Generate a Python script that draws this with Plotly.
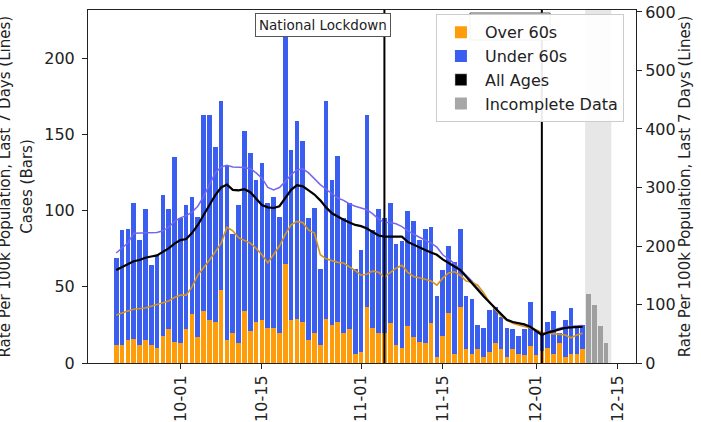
import pandas as pd
import plotly.graph_objects as go

# ---------------- data ----------------
dates = pd.date_range('2020-09-20', periods=81, freq='D')

cases_total = [69, 87, 88, 105, 81, 101, 64, 71, 110, 101,
               135, 95, 104, 109, 96, 163, 163, 142, 172, 130,
               85, 104, 152, 138, 120, 131, 105, 109, 96, 221,
               140, 159, 146, 95, 102, 62, 172, 120, 136, 95,
               105, 62, 74, 163, 87, 101, 95, 105, 78, 80,
               100, 93, 81, 88, 89, 44, 61, 77, 66, 88,
               44, 42, 25, 23, 35, 37, 30, 23, 22, 18,
               22, 40, 21, 20, 27, 34, 20, 28, 36, 24, 25]

cases_over60 = [12, 12, 15, 16, 12, 15, 12, 10, 18, 22,
                14, 13, 22, 32, 17, 34, 28, 27, 48, 15,
                20, 13, 34, 21, 27, 28, 23, 23, 20, 65,
                28, 29, 27, 15, 20, 12, 29, 25, 27, 20,
                22, 6, 7, 37, 23, 20, 20, 26, 12, 10,
                24, 17, 14, 13, 26, 4, 18, 33, 6, 37,
                9, 6, 9, 4, 7, 13, 9, 4, 9, 6,
                5, 11, 5, 8, 10, 6, 13, 4, 6, 6, 9]

rate_all = [159, 164, 170, 174, 176, 180, 182, 184, 190, 196,
            204, 210, 212, 222, 236, 252, 270, 287, 300, 305,
            296, 295, 297, 292, 280, 270, 266, 265, 268, 282,
            296, 304, 302, 295, 288, 278, 266, 256, 250, 245,
            240, 236, 234, 230, 224, 218, 216, 216, 217, 216,
            207, 202, 198, 193, 189, 185, 177, 171, 165, 159,
            148, 136, 125, 114, 104, 94, 84, 74, 70, 68,
            66, 62, 55, 48, 52, 55, 58, 60, 61, 62, 62]

rate_over60 = [82, 86, 89, 92, 93, 94, 97, 100, 103, 106,
               112, 116, 116, 130, 150, 162, 176, 190, 205, 232,
               226, 214, 210, 205, 196, 185, 171, 185, 200, 220,
               236, 242, 240, 227, 222, 185, 178, 175, 172, 171,
               165, 158, 150, 152, 157, 155, 147, 155, 162, 167,
               155, 148, 146, 143, 140, 133, 145, 154, 156, 150,
               140, 138, 133, 120, 104, 91, 80, 73, 68, 65,
               63, 60, 57, 52, 51, 50, 49, 48, 43, 48, 51]

rate_under60 = [188, 196, 205, 222, 222, 222, 222, 223, 226, 232,
                242, 248, 252, 258, 268, 285, 305, 325, 335, 338,
                335, 335, 334, 332, 325, 316, 300, 296, 300, 310,
                322, 330, 332, 325, 315, 305, 297, 290, 282, 278,
                272, 268, 265, 262, 255, 246, 240, 240, 238, 233,
                226, 220, 215, 210, 205, 198, 185, 178, 170, 160,
                150, 140, 128, 116, 104, 92, 82, 74, 70, 68,
                66, 62, 56, 50, 54, 57, 60, 62, 63, 64, 64]

incomplete_dates = pd.date_range('2020-12-10', periods=4, freq='D')
incomplete_cases = [45, 38, 24, 13]

lockdown_start = '2020-11-05'
lockdown_end = '2020-12-02'
incomplete_span = ['2020-12-09 10:00', '2020-12-13 22:00']
tick_dates = ['2020-10-01', '2020-10-15', '2020-11-01', '2020-11-15',
              '2020-12-01', '2020-12-15']
tick_text = ['10-01', '10-15', '11-01', '11-15', '12-01', '12-15']

cases_under60 = [t - o for t, o in zip(cases_total, cases_over60)]

# ---------------- styling ----------------
ORANGE = '#ff9c0a'
BLUE = '#3a5ef0'
LINE_UNDER = '#7466ee'
LINE_OVER = '#d4961a'
GREY_BAR = 'rgba(120,120,120,0.65)'
DAY_MS = 86400000
BW = 0.8 * DAY_MS
FONT = 'DejaVu Sans'
FS = 16
FS_TITLE = 15

fig = go.Figure()

fig.add_trace(go.Bar(x=dates, y=cases_over60, width=BW, marker_color=ORANGE,
                     marker_line_width=0, name='Over 60s', legendgroup='a',
                     legendrank=1))
fig.add_trace(go.Bar(x=dates, y=cases_under60, width=BW, marker_color=BLUE,
                     marker_line_width=0, name='Under 60s', legendgroup='b',
                     legendrank=2))
fig.add_trace(go.Bar(x=[None], y=[None], marker_color='black', name='All Ages',
                     legendgroup='c', legendrank=3))
fig.add_trace(go.Bar(x=incomplete_dates, y=incomplete_cases, width=BW,
                     marker_color=GREY_BAR, marker_line_width=0,
                     name='Incomplete Data', legendgroup='d', legendrank=4))

fig.add_trace(go.Scatter(x=dates, y=rate_under60, yaxis='y2', mode='lines',
                         line=dict(color=LINE_UNDER, width=1.5), showlegend=False))
fig.add_trace(go.Scatter(x=dates, y=rate_over60, yaxis='y2', mode='lines',
                         line=dict(color=LINE_OVER, width=1.6), showlegend=False))
fig.add_trace(go.Scatter(x=dates, y=rate_all, yaxis='y2', mode='lines',
                         line=dict(color='black', width=2.2), showlegend=False))

shapes = [
    dict(type='rect', xref='x', yref='paper', x0=incomplete_span[0],
         x1=incomplete_span[1], y0=0, y1=1, fillcolor='rgba(175,175,175,0.3)',
         line_width=0, layer='below'),
    dict(type='line', xref='x', yref='paper', x0=lockdown_start, x1=lockdown_start,
         y0=0, y1=1, line=dict(color='black', width=2), layer='above'),
    dict(type='line', xref='x', yref='paper', x0=lockdown_end, x1=lockdown_end,
         y0=0, y1=1, line=dict(color='black', width=2), layer='above'),
    dict(type='rect', xref='x', yref='paper', x0='2020-11-19 16:00',
         x1='2020-12-03 10:00', y0=0.915, y1=0.9915, fillcolor='white',
         line=dict(color='#555555', width=1), layer='above'),
]

annotations = [
    dict(x=lockdown_start, y=0.9915, xref='x', yref='paper', xanchor='right',
         yanchor='top', xshift=7, text='National Lockdown', showarrow=False,
         font=dict(family=FONT, size=13.5, color='#222'), bgcolor='white',
         bordercolor='#555555', borderwidth=1, borderpad=3),
    dict(x=-0.1515, y=0.5, xref='paper', yref='paper', xanchor='center',
         yanchor='middle', textangle=-90, showarrow=False,
         text='Rate Per 100k Population, Last 7 Days (Lines)',
         font=dict(family=FONT, size=FS_TITLE, color='#222')),
]

fig.update_layout(
    width=701, height=422,
    margin=dict(l=88, r=65, t=10, b=59, autoexpand=False),
    paper_bgcolor='white', plot_bgcolor='white',
    barmode='relative', bargap=0,
    font=dict(family=FONT, size=FS, color='#222'),
    showlegend=True,
    legend=dict(x=0.978, xanchor='right', y=0.988, yanchor='top',
                bgcolor='rgba(255,255,255,0.92)', bordercolor='#cccccc',
                borderwidth=1, font=dict(family=FONT, size=FS, color='#222'),
                traceorder='grouped', tracegroupgap=0, itemwidth=38),
    xaxis=dict(type='date', range=['2020-09-15 04:00', '2020-12-18 03:30'],
               tickmode='array', tickvals=tick_dates, ticktext=tick_text,
               tickangle=-90, ticks='outside', ticklen=5, tickcolor='#222',
               showgrid=False, zeroline=False, showline=True, linecolor='#222',
               linewidth=1, mirror=True, tickfont=dict(size=FS),
               automargin=False),
    yaxis=dict(range=[0, 231.7], tickmode='array', tickvals=[0, 50, 100, 150, 200],
               ticks='outside', ticklen=5, tickcolor='#222', showgrid=False,
               zeroline=False, showline=True, linecolor='#222', linewidth=1,
               ticklabelstandoff=4,
               title=dict(text='Cases (Bars)', standoff=8,
                          font=dict(size=FS_TITLE)), tickfont=dict(size=FS),
               automargin=False),
    yaxis2=dict(range=[0, 603.4], overlaying='y', side='right', anchor='x',
                tickmode='array', tickvals=[0, 100, 200, 300, 400, 500, 600],
                ticks='outside', ticklen=5, tickcolor='#222', showgrid=False,
                zeroline=False, showline=True, linecolor='#222', linewidth=1,
                title=dict(text='Rate Per 100k Population, Last 7 Days (Lines)',
                           standoff=2, font=dict(size=FS_TITLE)),
                tickfont=dict(size=FS), automargin=False),
    shapes=shapes,
    annotations=annotations,
)

fig.write_html('out.html', config={'displayModeBar': False},
               post_script="document.body.style.margin='0px';")
